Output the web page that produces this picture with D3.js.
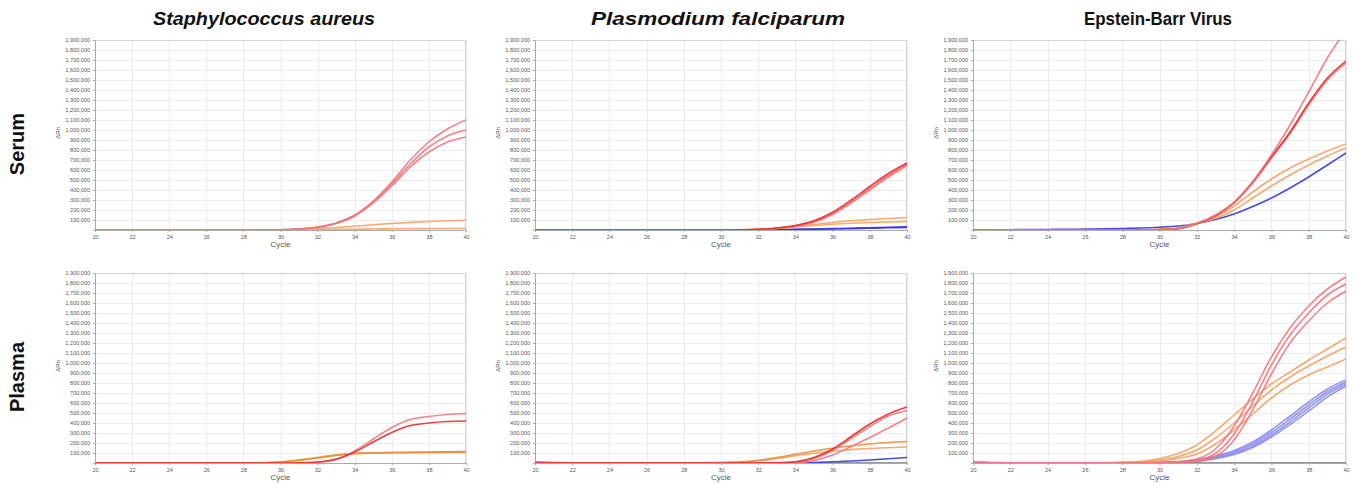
<!DOCTYPE html>
<html>
<head>
<meta charset="utf-8">
<script src="https://cdn.jsdelivr.net/npm/d3@7"></script>
<style>
  body { margin: 0; background: #fff; }
  svg { display: block; }
</style>
</head>
<body>
<svg id="chart" width="1353" height="484"></svg>
<script>
// values in thousands of ΔRn, one per cycle 20..40
var cycles = [20,21,22,23,24,25,26,27,28,29,30,31,32,33,34,35,36,37,38,39,40];
var xTicks = [20,22,24,26,28,30,32,34,36,38,40];
var yTicks = [100,200,300,400,500,600,700,800,900,1000,1100,1200,1300,1400,1500,1600,1700,1800,1900];
var organisms = ['Staphylococcus aureus', 'Plasmodium falciparum', 'Epstein-Barr Virus'];
var specimens = ['Serum', 'Plasma'];

// Staphylococcus aureus, serum
var saSerumRed1 = [0,0,0,0,0,0,0,0,0,1,3,10,30,70,150,290,480,700,880,1010,1100];
var saSerumRed2 = [0,0,0,0,0,0,0,0,0,1,3,10,28,68,145,280,460,660,830,940,1000];
var saSerumRed3 = [0,0,0,0,0,0,0,0,0,1,3,9,27,65,140,270,440,630,780,880,930];
var saSerumOrange1 = [0,0,0,0,0,0,0,0,0,0,2,6,13,25,38,52,65,76,85,92,98];
var saSerumOrange2 = [0,0,0,0,0,0,0,0,0,0,1,2,4,6,8,10,12,13,14,15,16];

// Plasmodium falciparum, serum
var pfSerumRed1 = [0,0,0,0,0,0,0,0,0,0,0,2,6,20,45,92,178,300,435,565,670];
var pfSerumRed2 = [0,0,0,0,0,0,0,0,0,0,0,2,5,18,42,85,165,280,415,545,655];
var pfSerumRed3 = [0,0,0,0,0,0,0,0,0,0,0,1,4,15,38,78,155,270,400,530,645];
var pfSerumOrange1 = [0,0,0,0,0,0,0,0,0,0,1,3,8,18,35,55,75,92,105,115,125];
var pfSerumOrange2 = [0,0,0,0,0,0,0,0,0,0,1,3,7,15,30,45,58,68,75,80,85];
var pfSerumBlue1 = [0,0,0,0,0,0,0,0,0,0,0,0,1,3,6,10,14,18,23,28,33];
var pfSerumBlue2 = [0,0,0,0,0,0,0,0,0,0,0,0,1,2,4,7,10,14,18,22,26];

// Epstein-Barr Virus, serum
var ebvSerumRed1 = [0,0,0,0,0,0,0,0,1,2,5,15,65,150,280,485,750,1050,1380,1720,2000];
var ebvSerumRed2 = [0,0,0,0,0,0,0,0,1,2,5,14,62,145,275,480,730,980,1270,1520,1690];
var ebvSerumRed3 = [0,0,0,0,0,0,0,0,1,2,4,13,60,140,270,470,720,965,1250,1500,1670];
var ebvSerumOrange1 = [0,0,0,0,0,0,0,0,1,2,5,20,70,130,240,380,510,620,710,790,860];
var ebvSerumOrange2 = [0,0,0,0,0,0,0,0,1,2,5,18,65,115,200,320,440,550,650,740,820];
var ebvSerumBlue = [2,3,3,4,5,7,9,11,15,20,28,40,65,105,160,235,320,420,530,650,770];

// Staphylococcus aureus, plasma
var saPlasmaRed = [0,0,0,0,0,0,0,0,0,0,0,2,10,40,110,210,305,375,400,415,420];
var saPlasmaPink = [0,0,0,0,0,0,0,0,0,0,0,2,8,35,120,240,355,435,465,485,495];
var saPlasmaOrange1 = [0,0,0,0,0,0,0,0,0,3,12,30,55,80,97,103,106,108,110,112,115];
var saPlasmaOrange2 = [0,0,0,0,0,0,0,0,0,2,10,27,50,76,93,99,102,104,106,107,108];

// Plasmodium falciparum, plasma
var pfPlasmaRed1 = [0,0,0,0,0,0,0,0,0,0,0,0,0,2,12,55,140,265,390,490,560];
var pfPlasmaRed2 = [0,0,0,0,0,0,0,0,0,0,0,0,0,1,8,45,125,245,365,470,525];
var pfPlasmaRed3 = [0,0,0,0,0,0,0,0,0,0,0,0,0,0,2,25,80,165,255,350,450];
var pfPlasmaOrange1 = [0,0,0,0,0,0,0,0,0,2,5,12,28,55,88,120,148,172,190,205,215];
var pfPlasmaOrange2 = [0,0,0,0,0,0,0,0,0,1,4,10,22,45,72,98,118,134,145,153,160];
var pfPlasmaBlue = [0,0,0,0,0,0,0,0,0,0,0,0,0,0,0,5,12,20,30,42,55];
var pfPlasmaGray = [9,4,1,0,0,0,0,0,0,0,0,0,0,0,0,0,0,0,0,0,0];

// Epstein-Barr Virus, plasma
var ebvPlasmaRed1 = [0,0,0,0,0,0,0,0,0,2,5,12,40,140,370,700,1060,1350,1570,1740,1860];
var ebvPlasmaRed2 = [0,0,0,0,0,0,0,0,0,1,3,8,25,95,290,610,980,1280,1500,1680,1790];
var ebvPlasmaRed3 = [0,0,0,0,0,0,0,0,0,1,2,5,16,65,230,530,890,1200,1420,1600,1720];
var ebvPlasmaOrange1 = [0,0,0,0,0,0,0,3,8,18,45,95,180,320,480,640,790,910,1030,1140,1250];
var ebvPlasmaOrange2 = [0,0,0,0,0,0,0,2,5,12,30,65,130,250,400,570,730,860,970,1070,1160];
var ebvPlasmaOrange3 = [0,0,0,0,0,0,0,1,4,8,20,45,90,190,330,490,650,780,880,960,1040];
var ebvPlasmaBlue1 = [0,0,0,0,0,0,0,0,0,3,8,15,35,70,125,210,330,470,610,740,830];
var ebvPlasmaBlue2 = [0,0,0,0,0,0,0,0,0,2,5,10,28,60,110,190,305,440,580,715,810];
var ebvPlasmaBlue3 = [0,0,0,0,0,0,0,0,0,1,3,8,22,50,95,170,280,410,550,690,790];
var ebvPlasmaBlue4 = [0,0,0,0,0,0,0,0,0,1,2,6,18,42,85,155,260,385,520,660,770];
var ebvPlasmaGray = [10,5,1,0,0,0,0,0,0,0,0,0,0,0,0,0,0,0,0,0,0];

var red = '#ea2a2a', pink = '#f2767c', orange = '#f6a062', deepOrange = '#f28a36',
    blue = '#3535e6', lightBlue = '#8a8aee', gray = '#666';

var panels = [
  {col: 0, row: 0, series: [[saSerumOrange2, orange], [saSerumOrange1, orange],
    [saSerumRed3, pink], [saSerumRed2, pink], [saSerumRed1, pink]]},
  {col: 1, row: 0, series: [[pfSerumBlue2, blue], [pfSerumBlue1, blue], [pfSerumOrange2, orange],
    [pfSerumOrange1, orange], [pfSerumRed3, pink], [pfSerumRed2, pink], [pfSerumRed1, red]]},
  {col: 2, row: 0, series: [[ebvSerumBlue, blue], [ebvSerumOrange2, orange], [ebvSerumOrange1, orange],
    [ebvSerumRed3, pink], [ebvSerumRed2, red], [ebvSerumRed1, pink]]},
  {col: 0, row: 1, series: [[saPlasmaOrange2, deepOrange], [saPlasmaOrange1, deepOrange],
    [saPlasmaPink, pink], [saPlasmaRed, red]]},
  {col: 1, row: 1, series: [[pfPlasmaGray, gray], [pfPlasmaBlue, blue], [pfPlasmaOrange2, orange],
    [pfPlasmaOrange1, deepOrange], [pfPlasmaRed3, pink], [pfPlasmaRed2, pink], [pfPlasmaRed1, red]]},
  {col: 2, row: 1, series: [[ebvPlasmaGray, gray], [ebvPlasmaBlue4, lightBlue], [ebvPlasmaBlue3, lightBlue],
    [ebvPlasmaBlue2, lightBlue], [ebvPlasmaBlue1, lightBlue], [ebvPlasmaOrange3, orange],
    [ebvPlasmaOrange2, orange], [ebvPlasmaOrange1, orange], [ebvPlasmaRed3, pink],
    [ebvPlasmaRed2, pink], [ebvPlasmaRed1, pink]]}
];

var svg = d3.select('#chart');
var colLeft = [95, 535, 973],
    colWidth = [371, 372, 373],
    rowTop = [40, 273],
    plotH = 190;
var font = "'Liberation Sans', Arial, sans-serif";

// column titles
var titleX = [264, 718, 1158],
    titleLen = [222, 254, 148];
organisms.forEach(function(name, i) {
  svg.append('text')
    .attr('x', titleX[i])
    .attr('y', 25)
    .attr('text-anchor', 'middle')
    .attr('textLength', titleLen[i])
    .attr('lengthAdjust', 'spacingAndGlyphs')
    .style('font-family', font)
    .style('font-size', '18px')
    .style('font-weight', 'bold')
    .style('font-style', i < 2 ? 'italic' : 'normal')
    .style('fill', '#111')
    .text(name);
});

// row labels
specimens.forEach(function(name, j) {
  svg.append('text')
    .attr('transform', 'translate(24,' + (rowTop[j] + 104) + ') rotate(-90)')
    .attr('text-anchor', 'middle')
    .style('font-family', font)
    .style('font-size', '20px')
    .style('font-weight', 'bold')
    .style('fill', '#111')
    .text(name);
});

panels.forEach(function(p, k) {
  var w = colWidth[p.col];
  var g = svg.append('g')
    .attr('transform', 'translate(' + colLeft[p.col] + ',' + rowTop[p.row] + ')');

  var x = d3.scaleLinear().domain([20, 40]).range([0, w]);
  var y = d3.scaleLinear().domain([0, 1900]).range([plotH, 0]);

  // grid
  g.append('g').selectAll('line.h').data(yTicks).enter().append('line')
    .attr('x1', 0).attr('x2', w)
    .attr('y1', function(d) { return Math.round(y(d)) + 0.5; })
    .attr('y2', function(d) { return Math.round(y(d)) + 0.5; })
    .style('stroke', '#ececec').style('stroke-width', 1);
  g.append('g').selectAll('line.v').data(xTicks).enter().append('line')
    .attr('y1', 0).attr('y2', plotH)
    .attr('x1', function(d) { return Math.round(x(d)) + 0.5; })
    .attr('x2', function(d) { return Math.round(x(d)) + 0.5; })
    .style('stroke', '#ececec').style('stroke-width', 1);

  g.append('rect')
    .attr('x', 0.5).attr('y', 0.5).attr('width', w - 1).attr('height', plotH)
    .style('fill', 'none').style('stroke', '#d4d4d4');

  // axes
  var yAxis = g.append('g')
    .call(d3.axisLeft(y).tickValues(yTicks).tickSize(2)
      .tickFormat(function(d) { return d3.format(',')(d * 1000); }));
  var xAxis = g.append('g')
    .attr('transform', 'translate(0,' + plotH + ')')
    .call(d3.axisBottom(x).tickValues(xTicks).tickSize(2));
  [yAxis, xAxis].forEach(function(a) {
    a.select('.domain').style('stroke', '#aaa');
    a.selectAll('.tick line').style('stroke', '#aaa');
    a.selectAll('text').style('font-family', font).style('font-size', '5.5px').style('fill', '#555');
  });

  g.append('text')
    .attr('x', w / 2).attr('y', plotH + 17)
    .attr('text-anchor', 'middle')
    .style('font-family', font).style('font-size', '8px').style('fill', '#555')
    .text('Cycle');
  g.append('text')
    .attr('transform', 'translate(-35,' + (plotH / 2 - 2) + ') rotate(-90)')
    .attr('text-anchor', 'middle')
    .style('font-family', font).style('font-size', '6px').style('fill', '#555')
    .text('ΔRn');

  var clipId = 'clip' + k;
  g.append('clipPath').attr('id', clipId).append('rect')
    .attr('x', 0).attr('y', 0).attr('width', w).attr('height', plotH);

  var line = d3.line()
    .x(function(d, i) { return x(cycles[i]); })
    .y(function(d) { return y(d); })
    .curve(d3.curveMonotoneX);

  g.append('g').attr('clip-path', 'url(#' + clipId + ')')
    .selectAll('path').data(p.series).enter().append('path')
    .attr('d', function(s) { return line(s[0]); })
    .style('fill', 'none')
    .style('stroke', function(s) { return s[1]; })
    .style('stroke-width', 1.6)
    .style('stroke-opacity', 0.9);
});
</script>
</body>
</html>
